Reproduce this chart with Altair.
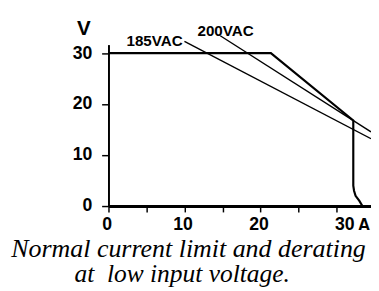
import altair as alt
import pandas as pd

# ---- data ----
main_a = [0, 21.36, 32.2, 32.2, 32.3, 32.5, 33.0, 33.4]
main_v = [30, 30, 16.8, 4.0, 3.0, 2.0, 1.0, 0]

vac185_a = [9.99, 34.53]
vac185_v = [32.3, 13.2]

vac200_a = [14.7, 34.53]
vac200_v = [33.4, 14.55]

label_185 = ["185VAC"]
label_185_pos = [9.76, 31.34]
label_200 = ["200VAC"]
label_200_pos = [11.71, 33.38]

x_ticks = [0, 5, 10, 15, 20, 25, 30]
y_ticks = [0, 10, 20, 30]

caption_1 = ["Normal current limit and derating"]
caption_2 = ["at\u00a0 low input voltage."]

X_MAX = 34.53
Y_MAX = 31.67

AX_FONT = "Liberation Sans"

x_scale = alt.Scale(domain=[0, X_MAX], nice=False, zero=False)
y_scale = alt.Scale(domain=[0, Y_MAX], nice=False, zero=False)

x_axis = alt.Axis(
    values=x_ticks,
    labelExpr="datum.value % 10 == 0 ? datum.label : ''",
    grid=False,
    tickSize=6,
    tickWidth=1.5,
    tickColor="black",
    domainColor="black",
    domainWidth=3,
    labelFont=AX_FONT,
    labelFontSize=18,
    labelFontWeight="bold",
    labelColor="black",
    labelPadding=4,
    labelFlush=False,
    labelOverlap=False,
    labelOffset={"condition": {"test": "datum.value == 30", "value": 8}, "value": -2},
    title="A",
    titleFont=AX_FONT,
    titleFontSize=18,
    titleFontWeight="bold",
    titleColor="black",
    titleAlign="left",
    titleBaseline="alphabetic",
    titleX=254.3,
    titleY=24.5,
    zindex=0,
)

y_axis = alt.Axis(
    values=y_ticks,
    grid=False,
    tickSize=7,
    tickWidth=1.5,
    tickColor="black",
    domainColor="black",
    domainWidth=2,
    labelFont=AX_FONT,
    labelFontSize=18,
    labelFontWeight="bold",
    labelColor="black",
    labelPadding=10,
    labelOverlap=False,
    title="V",
    titleFont=AX_FONT,
    titleFontSize=21,
    titleFontWeight="bold",
    titleColor="black",
    titleAngle=0,
    titleAlign="center",
    titleBaseline="alphabetic",
    titleX=-25.7,
    titleY=-10,
    zindex=0,
)

main_df = pd.DataFrame({"a": main_a, "v": main_v, "i": range(len(main_a))})
d185 = pd.DataFrame({"a": vac185_a, "v": vac185_v, "i": range(2)})
d200 = pd.DataFrame({"a": vac200_a, "v": vac200_v, "i": range(2)})

main_line = alt.Chart(main_df).mark_line(color="black", strokeWidth=2.2).encode(
    x=alt.X("a:Q", scale=x_scale, axis=x_axis),
    y=alt.Y("v:Q", scale=y_scale, axis=y_axis),
    order="i:Q",
)

line185 = alt.Chart(d185).mark_line(color="black", strokeWidth=1.4).encode(
    x="a:Q", y="v:Q", order="i:Q"
)
line200 = alt.Chart(d200).mark_line(color="black", strokeWidth=1.4).encode(
    x="a:Q", y="v:Q", order="i:Q"
)

t185 = alt.Chart(pd.DataFrame({"t": label_185, "a": [label_185_pos[0]], "v": [label_185_pos[1]]})).mark_text(
    font=AX_FONT, fontSize=15.5, fontWeight="bold", color="black", align="right", baseline="alphabetic"
).encode(x="a:Q", y="v:Q", text="t:N")

t200 = alt.Chart(pd.DataFrame({"t": label_200, "a": [label_200_pos[0]], "v": [label_200_pos[1]]})).mark_text(
    font=AX_FONT, fontSize=15.5, fontWeight="bold", color="black", align="left", baseline="alphabetic"
).encode(x="a:Q", y="v:Q", text="t:N")

cover = alt.Chart(pd.DataFrame({"k": [0]})).mark_rect(color="white").encode(
    x=alt.value(-102.7), x2=alt.value(268.3), y=alt.value(189.5), y2=alt.value(250)
)

cap1 = alt.Chart(pd.DataFrame({"t": caption_1})).mark_text(
    font="Liberation Serif", fontSize=26.5, fontStyle="italic", color="black",
    align="center", baseline="alphabetic"
).encode(x=alt.value(81.8), y=alt.value(217.5), text="t:N")

cap2 = alt.Chart(pd.DataFrame({"t": caption_2})).mark_text(
    font="Liberation Serif", fontSize=26, fontStyle="italic", color="black",
    align="center", baseline="alphabetic"
).encode(x=alt.value(75.3), y=alt.value(243), text="t:N")

chart = alt.layer(main_line, line185, line200, t185, t200, cover, cap1, cap2).properties(
    width=268.3,
    height=165,
    autosize=alt.AutoSizeParams(type="none"),
    padding={"left": 102.7, "top": 34.3, "right": 0, "bottom": 83.7},
    background="white",
).configure_view(stroke=None)

chart.save("out.html", embed_options={"renderer": "svg", "actions": False})
